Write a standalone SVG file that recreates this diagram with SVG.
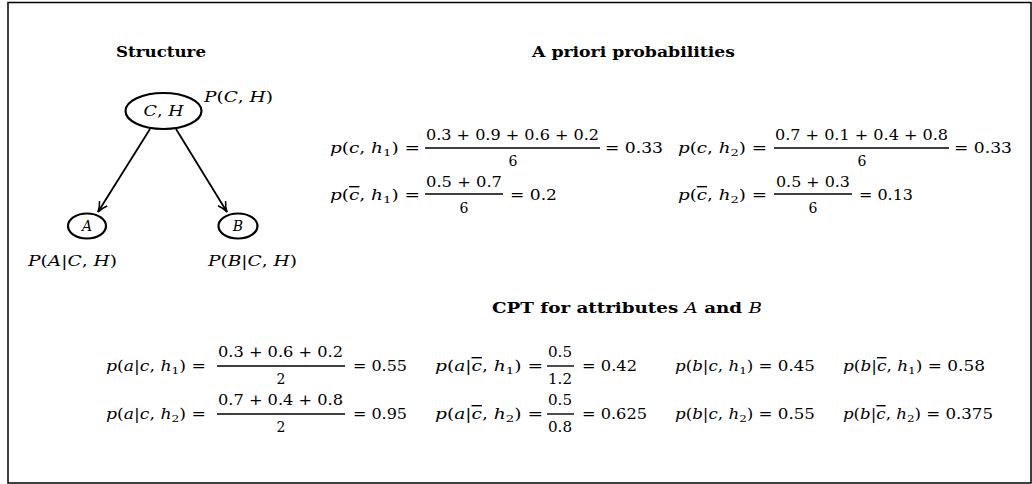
<svg xmlns="http://www.w3.org/2000/svg" width="1032" height="484" viewBox="0 0 1032 484">
<style>
.t{font-family:"DejaVu Serif","Liberation Serif",serif;font-size:14px;fill:#000}
.i{font-style:italic}
.s{font-size:10px}
.b{font-weight:bold}
.ob{text-decoration:overline}
.bar{stroke:#000;stroke-width:1.4}
.node{fill:#fff;stroke:#000;stroke-width:2.2}
.edge{stroke:#000;stroke-width:1.8;fill:none;marker-end:url(#arr)}
</style>
<defs>
<marker id="arr" viewBox="0 0 12 12" refX="11" refY="6" markerWidth="12" markerHeight="12" markerUnits="userSpaceOnUse" orient="auto">
<path d="M1,1.5 Q6,5 11,6 Q6,7 1,10.5" fill="none" stroke="#000" stroke-width="1.6"/>
</marker>
</defs>
<rect x="0" y="0" width="1032" height="484" fill="#fff"/>
<path d="M8,483 V2.5 H1031 V483 Z" fill="none" stroke="#000" stroke-width="1.5"/>

<!-- Structure -->
<text class="t b" x="116" y="57" textLength="90" lengthAdjust="spacingAndGlyphs">Structure</text>
<g id="connectors">
<line class="edge" x1="150" y1="129" x2="98" y2="212"/>
<line class="edge" x1="176" y1="129" x2="227" y2="212"/>
</g>
<g id="node-CH">
<ellipse class="node" cx="163.5" cy="111" rx="38" ry="18"/>
<text class="t i" x="163.5" y="116" text-anchor="middle" textLength="40" lengthAdjust="spacingAndGlyphs">C<tspan font-style="normal">,</tspan> H</text>
<text class="t" x="204" y="102" textLength="69" lengthAdjust="spacingAndGlyphs"><tspan class="i">P</tspan>(<tspan class="i">C</tspan>, <tspan class="i">H</tspan>)</text>
</g>
<g id="node-A">
<ellipse class="node" cx="87" cy="226" rx="19" ry="12.5"/>
<text class="t i" x="87" y="231" text-anchor="middle">A</text>
<text class="t" x="28" y="266" textLength="89" lengthAdjust="spacingAndGlyphs"><tspan class="i">P</tspan>(<tspan class="i">A</tspan>|<tspan class="i">C</tspan>, <tspan class="i">H</tspan>)</text>
</g>
<g id="node-B">
<ellipse class="node" cx="238" cy="226" rx="19.5" ry="12.5"/>
<text class="t i" x="238" y="231" text-anchor="middle">B</text>
<text class="t" x="208" y="266" textLength="89" lengthAdjust="spacingAndGlyphs"><tspan class="i">P</tspan>(<tspan class="i">B</tspan>|<tspan class="i">C</tspan>, <tspan class="i">H</tspan>)</text>
</g>

<!-- A priori -->
<text class="t b" x="532" y="57" textLength="203" lengthAdjust="spacingAndGlyphs">A priori probabilities</text>
<g id="apriori">
<text class="t" x="330" y="153" textLength="90" lengthAdjust="spacingAndGlyphs"><tspan class="i">p</tspan>(<tspan class="i">c</tspan>, <tspan class="i">h</tspan><tspan class="s" dy="3">1</tspan><tspan dy="-3">) =</tspan></text>
<text class="t" x="426" y="140" textLength="173" lengthAdjust="spacingAndGlyphs">0.3 + 0.9 + 0.6 + 0.2</text>
<line class="bar" x1="425" y1="148" x2="600" y2="148"/>
<text class="t" x="513" y="166" text-anchor="middle">6</text>
<text class="t" x="605" y="153" textLength="58" lengthAdjust="spacingAndGlyphs">= 0.33</text>

<text class="t" x="330" y="200" textLength="90" lengthAdjust="spacingAndGlyphs"><tspan class="i">p</tspan>(<tspan class="i ob">c</tspan>, <tspan class="i">h</tspan><tspan class="s" dy="3">1</tspan><tspan dy="-3">) =</tspan></text>
<text class="t" x="426" y="187" textLength="76" lengthAdjust="spacingAndGlyphs">0.5 + 0.7</text>
<line class="bar" x1="425" y1="194" x2="503" y2="194"/>
<text class="t" x="464" y="213" text-anchor="middle">6</text>
<text class="t" x="510" y="200" textLength="47" lengthAdjust="spacingAndGlyphs">= 0.2</text>

<text class="t" x="678" y="153" textLength="89" lengthAdjust="spacingAndGlyphs"><tspan class="i">p</tspan>(<tspan class="i">c</tspan>, <tspan class="i">h</tspan><tspan class="s" dy="3">2</tspan><tspan dy="-3">) =</tspan></text>
<text class="t" x="775" y="140" textLength="173" lengthAdjust="spacingAndGlyphs">0.7 + 0.1 + 0.4 + 0.8</text>
<line class="bar" x1="774" y1="148" x2="949" y2="148"/>
<text class="t" x="862" y="166" text-anchor="middle">6</text>
<text class="t" x="954" y="153" textLength="58" lengthAdjust="spacingAndGlyphs">= 0.33</text>

<text class="t" x="678" y="200" textLength="89" lengthAdjust="spacingAndGlyphs"><tspan class="i">p</tspan>(<tspan class="i ob">c</tspan>, <tspan class="i">h</tspan><tspan class="s" dy="3">2</tspan><tspan dy="-3">) =</tspan></text>
<text class="t" x="776" y="187" textLength="74" lengthAdjust="spacingAndGlyphs">0.5 + 0.3</text>
<line class="bar" x1="774" y1="194" x2="852" y2="194"/>
<text class="t" x="813" y="213" text-anchor="middle">6</text>
<text class="t" x="859" y="200" textLength="54" lengthAdjust="spacingAndGlyphs">= 0.13</text>
</g>

<!-- CPT -->
<text class="t b" x="492" y="313" textLength="270" lengthAdjust="spacingAndGlyphs">CPT for attributes <tspan class="i" font-weight="normal">A</tspan> and <tspan class="i" font-weight="normal">B</tspan></text>
<g id="cpt">
<text class="t" x="106" y="371" textLength="100" lengthAdjust="spacingAndGlyphs"><tspan class="i">p</tspan>(<tspan class="i">a</tspan>|<tspan class="i">c</tspan>, <tspan class="i">h</tspan><tspan class="s" dy="3">1</tspan><tspan dy="-3">) =</tspan></text>
<text class="t" x="218" y="357" textLength="125" lengthAdjust="spacingAndGlyphs">0.3 + 0.6 + 0.2</text>
<line class="bar" x1="217" y1="366" x2="345" y2="366"/>
<text class="t" x="281" y="384" text-anchor="middle">2</text>
<text class="t" x="353" y="371" textLength="54" lengthAdjust="spacingAndGlyphs">= 0.55</text>

<text class="t" x="435" y="371" textLength="108" lengthAdjust="spacingAndGlyphs"><tspan class="i">p</tspan>(<tspan class="i">a</tspan>|<tspan class="i ob">c</tspan>, <tspan class="i">h</tspan><tspan class="s" dy="3">1</tspan><tspan dy="-3">) =</tspan></text>
<text class="t" x="548" y="357" textLength="24" lengthAdjust="spacingAndGlyphs">0.5</text>
<line class="bar" x1="547" y1="366" x2="574" y2="366"/>
<text class="t" x="548" y="384" textLength="24" lengthAdjust="spacingAndGlyphs">1.2</text>
<text class="t" x="582" y="371" textLength="55" lengthAdjust="spacingAndGlyphs">= 0.42</text>

<text class="t" x="675" y="371" textLength="140" lengthAdjust="spacingAndGlyphs"><tspan class="i">p</tspan>(<tspan class="i">b</tspan>|<tspan class="i">c</tspan>, <tspan class="i">h</tspan><tspan class="s" dy="3">1</tspan><tspan dy="-3">) = 0.45</tspan></text>
<text class="t" x="843" y="371" textLength="142" lengthAdjust="spacingAndGlyphs"><tspan class="i">p</tspan>(<tspan class="i">b</tspan>|<tspan class="i ob">c</tspan>, <tspan class="i">h</tspan><tspan class="s" dy="3">1</tspan><tspan dy="-3">) = 0.58</tspan></text>

<text class="t" x="106" y="419" textLength="100" lengthAdjust="spacingAndGlyphs"><tspan class="i">p</tspan>(<tspan class="i">a</tspan>|<tspan class="i">c</tspan>, <tspan class="i">h</tspan><tspan class="s" dy="3">2</tspan><tspan dy="-3">) =</tspan></text>
<text class="t" x="218" y="405" textLength="125" lengthAdjust="spacingAndGlyphs">0.7 + 0.4 + 0.8</text>
<line class="bar" x1="217" y1="414" x2="345" y2="414"/>
<text class="t" x="281" y="432" text-anchor="middle">2</text>
<text class="t" x="353" y="419" textLength="54" lengthAdjust="spacingAndGlyphs">= 0.95</text>

<text class="t" x="435" y="419" textLength="108" lengthAdjust="spacingAndGlyphs"><tspan class="i">p</tspan>(<tspan class="i">a</tspan>|<tspan class="i ob">c</tspan>, <tspan class="i">h</tspan><tspan class="s" dy="3">2</tspan><tspan dy="-3">) =</tspan></text>
<text class="t" x="548" y="405" textLength="24" lengthAdjust="spacingAndGlyphs">0.5</text>
<line class="bar" x1="547" y1="414" x2="574" y2="414"/>
<text class="t" x="548" y="432" textLength="24" lengthAdjust="spacingAndGlyphs">0.8</text>
<text class="t" x="582" y="419" textLength="65" lengthAdjust="spacingAndGlyphs">= 0.625</text>

<text class="t" x="675" y="419" textLength="140" lengthAdjust="spacingAndGlyphs"><tspan class="i">p</tspan>(<tspan class="i">b</tspan>|<tspan class="i">c</tspan>, <tspan class="i">h</tspan><tspan class="s" dy="3">2</tspan><tspan dy="-3">) = 0.55</tspan></text>
<text class="t" x="843" y="419" textLength="150" lengthAdjust="spacingAndGlyphs"><tspan class="i">p</tspan>(<tspan class="i">b</tspan>|<tspan class="i ob">c</tspan>, <tspan class="i">h</tspan><tspan class="s" dy="3">2</tspan><tspan dy="-3">) = 0.375</tspan></text>
</g>
</svg>
